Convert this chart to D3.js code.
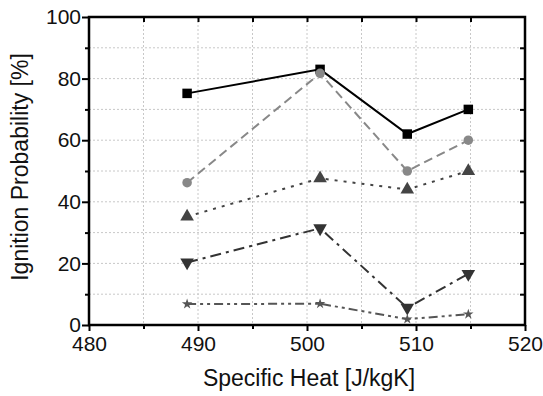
<!DOCTYPE html>
<meta charset="utf-8">
<style>
  body { margin: 0; background: #fff; }
  text { font-family: "Liberation Sans", Arial, sans-serif; fill: #111; }
</style>
<body>
<script src="https://d3js.org/d3.v7.min.js"></script>
<script>

// data
var heat = [489, 501.2, 509.2, 514.8];
var squares = [75.2, 83.0, 62.0, 70.0];
var circles = [46.2, 81.7, 50.0, 60.0];
var trianglesUp = [35.2, 47.6, 44.0, 50.0];
var trianglesDown = [20.3, 31.4, 5.6, 16.6];
var stars = [6.8, 6.9, 1.9, 3.5];

var xTicks = [480, 490, 500, 510, 520];
var yTicks = [0, 20, 40, 60, 80, 100];

var series = [
  {values: squares,       color: "#000",    dash: null,               symbol: d3.symbolSquare,   size: 90, rot: 0},
  {values: circles,       color: "#888",    dash: "9,5",              symbol: d3.symbolCircle,   size: 72, rot: 0},
  {values: trianglesUp,   color: "#444",    dash: "3,6",              symbol: d3.symbolTriangle, size: 80, rot: 0},
  {values: trianglesDown, color: "#333",    dash: "11,5,3,5",         symbol: d3.symbolTriangle, size: 80, rot: 180},
  {values: stars,         color: "#555",    dash: "9,4,3,4,3,4",      symbol: d3.symbolStar,     size: 34, rot: 0}
];

var W = 543, H = 396;
var margin = {top: 17, right: 18, bottom: 71, left: 89},
    width = W - margin.left - margin.right,
    height = H - margin.top - margin.bottom;

var svg = d3.select("body").append("svg")
    .attr("width", W).attr("height", H)
  .append("g")
    .attr("transform", "translate(" + margin.left + "," + margin.top + ")");

var x = d3.scaleLinear().domain([480, 520]).range([0, width]);
var y = d3.scaleLinear().domain([0, 100]).range([height, 0]);

// grid
svg.append("g").selectAll("line")
  .data(d3.range(485, 520, 5))
  .enter().append("line")
    .attr("x1", d => x(d)).attr("x2", d => x(d))
    .attr("y1", 0).attr("y2", height)
    .attr("stroke", "#c8c8c8").attr("stroke-dasharray", "2,2");
svg.append("g").selectAll("line")
  .data(d3.range(10, 100, 10))
  .enter().append("line")
    .attr("y1", d => y(d)).attr("y2", d => y(d))
    .attr("x1", 0).attr("x2", width)
    .attr("stroke", "#c8c8c8").attr("stroke-dasharray", "2,2");

// lines and markers
var line = d3.line().x((d, i) => x(heat[i])).y(d => y(d));
series.forEach(function(s) {
  svg.append("path")
    .attr("d", line(s.values))
    .attr("fill", "none")
    .attr("stroke", s.color)
    .attr("stroke-width", 2)
    .attr("stroke-dasharray", s.dash);
  svg.append("g").selectAll("path")
    .data(s.values)
    .enter().append("path")
      .attr("d", d3.symbol().type(s.symbol).size(s.size))
      .attr("transform", (d, i) => "translate(" + x(heat[i]) + "," + y(d) + ") rotate(" + s.rot + ")")
      .attr("fill", s.color);
});

// axes
var xAxis = svg.append("g")
  .attr("transform", "translate(0," + height + ")")
  .call(d3.axisBottom(x).tickValues(xTicks).tickSize(6).tickFormat(d3.format("d")));
svg.append("g")
  .attr("transform", "translate(0," + height + ")")
  .call(d3.axisBottom(x).tickValues(d3.range(485, 520, 10)).tickSize(4).tickFormat(""));
var yAxis = svg.append("g")
  .call(d3.axisLeft(y).tickValues(yTicks).tickSize(7));
svg.append("g")
  .call(d3.axisLeft(y).tickValues(d3.range(10, 100, 20)).tickSize(4).tickFormat(""));
svg.append("g")
  .call(d3.axisTop(x).tickValues(d3.range(485, 520, 5)).tickSizeInner(-5).tickSizeOuter(0).tickFormat(""));
svg.append("g")
  .attr("transform", "translate(" + width + ",0)")
  .call(d3.axisRight(y).tickValues(d3.range(10, 100, 10)).tickSizeInner(-5).tickSizeOuter(0).tickFormat(""));

svg.selectAll(".domain").remove();
svg.selectAll(".tick line").attr("stroke", "#000").attr("stroke-width", 2);
svg.selectAll(".tick text").style("font-size", "21px").attr("fill", "#111");
xAxis.selectAll(".tick text").attr("dy", "0.8em");
yAxis.selectAll(".tick text").attr("x", -8);

// frame
svg.append("rect")
  .attr("width", width).attr("height", height)
  .attr("fill", "none").attr("stroke", "#000").attr("stroke-width", 2.5);

// axis titles
svg.append("text")
  .attr("x", width / 2 + 2).attr("y", height + 61)
  .attr("text-anchor", "middle")
  .style("font-size", "23px")
  .text("Specific Heat [J/kgK]");
svg.append("text")
  .attr("transform", "rotate(-90)")
  .attr("x", -height / 2 + 4).attr("y", -61)
  .attr("text-anchor", "middle")
  .style("font-size", "23px")
  .text("Ignition Probability [%]");

</script>
</body>
</html>
